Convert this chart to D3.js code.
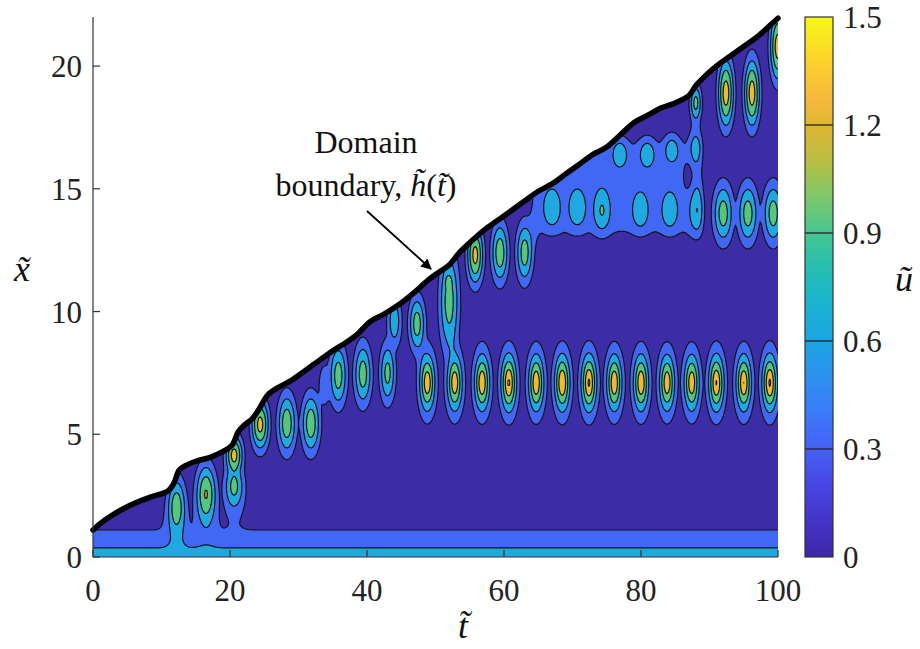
<!DOCTYPE html>
<html><head><meta charset="utf-8">
<script src="https://cdn.jsdelivr.net/npm/d3@7"></script>
<style>body{margin:0;background:#fff} svg{display:block}</style>
</head><body><svg id="c" width="920" height="649"></svg>
<script>
// ---- domain boundary h(t) ----
const boundaryT = [0,1,2.5,5,8,11,11.8,12.6,13.5,15,17,19,20.3,21.2,22,23.3,24.3,25.5,27,29,31,33,35,37,38.5,40.5,42.5,45,47,49,50.5,52,53.5,55,57,59,61,63,65,67,69,71,73,75,77,79,81,83,85,87,88,89,91,93,95,97,99,100];
const boundaryH = [1.1,1.35,1.65,2.05,2.4,2.7,3.0,3.55,3.72,3.9,4.05,4.3,4.55,5.1,5.35,5.65,6.05,6.6,6.9,7.2,7.6,8.0,8.4,8.75,9.05,9.6,9.9,10.35,10.8,11.3,11.6,11.9,12.4,12.8,13.3,13.7,14.1,14.5,14.9,15.2,15.6,16.0,16.4,16.7,17.2,17.7,18.0,18.3,18.5,18.8,19.2,19.5,20.0,20.4,20.8,21.2,21.7,21.95];

// ---- peaks of u(t,x) ----
const blobT  = [12.2,16.5,20.6,20.6, 24.4,28.3,31.8,33.8,35.8,39.4,43.0,44.0,47.3,48.0,52.0,51.9,52.4,
  48.8,52.8,56.8,60.7,64.7,68.5,72.4,76.1,80.0,83.8,87.4,91.0,95.0,98.8,
  55.8,59.4,63.0,
  67.0,70.7,74.3,79.9,84.2,88.2, 92.0,95.6,99.3,
  76.9,80.9,84.5, 88.0,88.0,88.0,
  92.4,96.2,100.0];
const blobX  = [2.1,2.6,4.15,2.9, 5.4,5.45,5.45,7.0,7.4,7.45,7.5,9.6,9.5,8.3,10.4,11.2,8.6,
  7.1,7.1,7.1,7.1,7.1,7.1,7.1,7.1,7.1,7.1,7.1,7.1,7.1,7.1,
  12.3,12.4,12.4,
  14.2,14.2,14.1,14.1,14.1,14.1, 14.0,14.0,14.0,
  16.5,16.5,16.7, 16.8,17.6,18.5,
  18.9,18.9,20.8];
const blobA  = [1.0,1.15,1.3,0.95, 1.3,1.1,1.1,0.45,1.05,1.05,1.0,0.8,1.05,0.4,1.05,1.0,0.45,
  1.45,1.45,1.48,1.55,1.48,1.52,1.55,1.48,1.48,1.45,1.45,1.52,1.5,1.55,
  1.3,1.1,1.05,
  0.48,0.48,0.52,0.46,0.46,0.52, 1.05,1.05,1.05,
  0.46,0.46,0.46, 0.5,0.35,1.0,
  1.35,1.35,1.35];
const blobSt = [1.35,1.5,1.3,1.5, 1.32,1.4,1.4,1.2,1.35,1.35,1.2,1.15,1.25,1.2,1.5,0.6,1.1,
  1.2,1.2,1.2,1.2,1.2,1.2,1.2,1.2,1.2,1.2,1.2,1.2,1.2,1.2,
  1.24,1.3,1.3,
  1.25,1.25,1.2,1.2,1.2,1.1, 1.55,1.55,1.55,
  1.2,1.2,1.2, 1.0,0.95,0.9,
  1.2,1.2,1.2];
const blobSx = [1.2,1.25,0.85,1.0, 1.07,1.27,1.27,1.2,1.35,1.35,1.3,1.2,1.2,1.3,2.2,0.35,1.2,
  1.26,1.26,1.26,1.26,1.26,1.26,1.26,1.26,1.26,1.26,1.26,1.26,1.26,1.26,
  1.25,1.3,1.3,
  0.8,0.8,0.9,0.8,0.8,1.0, 1.3,1.3,1.3,
  0.65,0.65,0.65, 0.8,0.7,0.8,
  1.46,1.46,1.46];
const blobP  = [2,2,2,2, 2,2,2,2,2,2,2,2,2,2,2,2,2,
  1.6,1.6,1.6,1.6,1.6,1.6,1.6,1.6,1.6,1.6,1.6,1.6,1.6,1.6,
  2,2,2, 2,2,2,2,2,2, 2,2,2, 2,2,2, 2,2,2, 2,2,2];
// local dip inside the upper band
const dipT = [86.9], dipX = [15.5], dipA = [-0.25], dipSt = [0.8], dipSx = [0.75];

// near-wall strip and the broad plateau in the upper band
const baseAmp = 0.852, baseDecay = 1.053;
const plateauT = [64.0, 89.0], plateauX = [13.0, 17.0], plateauLevel = 0.42;
const blendQ = 3;

const levels = [0.3, 0.6, 0.9, 1.2, 1.5];
const bandColors = ["#3c2da6", "#4168f4", "#20a9e0", "#55c67f", "#efba2e", "#f9f020"];
const xTicks = [0, 20, 40, 60, 80, 100];
const yTicks = [0, 5, 10, 15, 20];
const cbTicks = [0, 0.3, 0.6, 0.9, 1.2, 1.5];
const parulaStops = [[0,"#3e26a8"],[0.07,"#4434c9"],[0.14,"#4848e6"],[0.2,"#4561f7"],[0.27,"#3a7bf8"],[0.33,"#2d8ff0"],[0.4,"#1ba5e3"],[0.47,"#1ab4d0"],[0.53,"#25bdb5"],[0.6,"#46c690"],[0.67,"#80c868"],[0.73,"#b6bf45"],[0.8,"#e0b530"],[0.85,"#f8b93e"],[0.92,"#fcd22c"],[1,"#f6f818"]];

const svg = d3.select("#c");
const xS = d3.scaleLinear([0, 100], [93, 778]);
const yS = d3.scaleLinear([0, 22], [557, 17]);

// ---- field ----
const sig = z => 1 / (1 + Math.exp(-z));
function field(t, x) {
  t = Math.max(0, Math.min(100, t));
  x = Math.max(0, Math.min(22.5, x));
  let v = baseAmp * Math.exp(-x / baseDecay);
  const w = 0.3;
  v += plateauLevel * sig((t - plateauT[0]) / w) * sig((plateauT[1] - t) / w) * sig((x - plateauX[0]) / w) * sig((plateauX[1] - x) / w);
  for (let k = 0; k < dipT.length; k++) {
    const a = (t - dipT[k]) / dipSt[k], b = (x - dipX[k]) / dipSx[k];
    v += dipA[k] * Math.exp(-(a * a + b * b));
  }
  let s = 0;
  for (let k = 0; k < blobT.length; k++) {
    const a = (t - blobT[k]) / blobSt[k], b = (x - blobX[k]) / blobSx[k];
    const r2 = a * a + b * b;
    if (r2 > 40) continue;
    const u = blobA[k] * Math.exp(-Math.pow(r2, blobP[k] / 2));
    s += Math.pow(u, blendQ);
  }
  return v + Math.pow(s, 1 / blendQ);
}
const t0 = -2, t1 = 102, dt = 0.2, x0 = -1, x1 = 23, dx = 0.05;
const n = Math.round((t1 - t0) / dt) + 1, m = Math.round((x1 - x0) / dx) + 1;
const values = new Float64Array(n * m);
for (let j = 0; j < m; j++) for (let i = 0; i < n; i++) values[i + j * n] = field(t0 + i * dt, x0 + j * dx);
const contours = d3.contours().size([n, m]).thresholds(levels)(values);
const proj = d3.geoTransform({ point(px, py) { this.stream.point(xS(t0 + (px - 0.5) * dt), yS(x0 + (py - 0.5) * dx)); } });
const gp = d3.geoPath(proj);

// clip to domain
const hPts = boundaryT.map((t, i) => [t, boundaryH[i]]);
const curve = d3.curveCatmullRom.alpha(0.5);
const area = d3.area().x(d => xS(d[0])).y0(yS(0)).y1(d => yS(d[1])).curve(curve);
const defs = svg.append("defs");
defs.append("clipPath").attr("id", "dom").append("path").attr("d", area(hPts));

const g = svg.append("g").attr("clip-path", "url(#dom)");
g.append("rect").attr("x", xS(0)).attr("y", yS(22)).attr("width", xS(100) - xS(0)).attr("height", yS(0) - yS(22)).attr("fill", bandColors[0]);
contours.forEach((c, k) => {
  g.append("path").attr("d", gp(c)).attr("fill", bandColors[k + 1]).attr("stroke", "#141414").attr("stroke-width", 1.2).attr("stroke-linejoin", "round");
});

// boundary line
svg.append("path").attr("d", d3.line().x(d => xS(d[0])).y(d => yS(d[1])).curve(curve)(hPts))
  .attr("fill", "none").attr("stroke", "#000").attr("stroke-width", 5.5).attr("stroke-linecap", "round").attr("stroke-linejoin", "round");

// axes
const ax = svg.append("g").attr("stroke", "#333").attr("stroke-width", 1.2);
ax.append("line").attr("x1", xS(0)).attr("x2", xS(0)).attr("y1", yS(22)).attr("y2", yS(0));
ax.append("line").attr("x1", xS(0)).attr("x2", xS(100)).attr("y1", yS(0)).attr("y2", yS(0));
yTicks.forEach(v => ax.append("line").attr("x1", xS(0)).attr("x2", xS(0) + 7).attr("y1", yS(v)).attr("y2", yS(v)));
xTicks.forEach(v => ax.append("line").attr("x1", xS(v)).attr("x2", xS(v)).attr("y1", yS(0)).attr("y2", yS(0) - 7));

const font = "'Liberation Serif', 'Times New Roman', serif";
const tx = svg.append("g").attr("font-family", font).attr("font-size", 31).attr("fill", "#222");
yTicks.forEach(v => tx.append("text").attr("x", 82).attr("y", yS(v) + 11).attr("text-anchor", "end").text(v));
xTicks.forEach(v => tx.append("text").attr("x", xS(v)).attr("y", 601).attr("text-anchor", "middle").text(v));

// colorbar
const cb = { x: 805, w: 28 };
const cbS = d3.scaleLinear([0, 1.5], [557, 17]);
const grad = defs.append("linearGradient").attr("id", "par").attr("x1", 0).attr("x2", 0).attr("y1", 1).attr("y2", 0);
parulaStops.forEach(s => grad.append("stop").attr("offset", s[0]).attr("stop-color", s[1]));
svg.append("rect").attr("x", cb.x).attr("y", cbS(1.5)).attr("width", cb.w).attr("height", cbS(0) - cbS(1.5)).attr("fill", "url(#par)");
levels.slice(0, 4).forEach(l => svg.append("line").attr("x1", cb.x).attr("x2", cb.x + cb.w).attr("y1", cbS(l)).attr("y2", cbS(l)).attr("stroke", "#222").attr("stroke-width", 1.3));
svg.append("rect").attr("x", cb.x).attr("y", cbS(1.5)).attr("width", cb.w).attr("height", cbS(0) - cbS(1.5)).attr("fill", "none").attr("stroke", "#333").attr("stroke-width", 1.2);
cbTicks.forEach(v => tx.append("text").attr("x", 843).attr("y", cbS(v) + 11).text(v === 0 ? "0" : v.toFixed(1)));

// axis titles
const it = svg.append("g").attr("font-family", font).attr("font-style", "italic").attr("font-size", 36).attr("fill", "#111");
it.append("text").attr("x", 22).attr("y", 281).attr("text-anchor", "middle").text("x\u0303");
it.append("text").attr("x", 463).attr("y", 638).attr("text-anchor", "middle").text("t\u0303");
it.append("text").attr("x", 904).attr("y", 291).attr("text-anchor", "middle").text("u\u0303");

// annotation
const an = svg.append("g").attr("font-family", font).attr("font-size", 32).attr("fill", "#111");
an.append("text").attr("x", 366).attr("y", 153).attr("text-anchor", "middle").text("Domain");
const l2 = an.append("text").attr("x", 366).attr("y", 196).attr("text-anchor", "middle");
l2.append("tspan").text("boundary, ");
l2.append("tspan").attr("font-style", "italic").text("h\u0303");
l2.append("tspan").text("(");
l2.append("tspan").attr("font-style", "italic").text("t\u0303");
l2.append("tspan").text(")");
defs.append("marker").attr("id", "ah").attr("viewBox", "0 0 10 10").attr("refX", 9).attr("refY", 5)
  .attr("markerWidth", 6).attr("markerHeight", 6).attr("orient", "auto-start-reverse")
  .append("path").attr("d", "M0,0 L10,5 L0,10 z").attr("fill", "#000");
svg.append("line").attr("x1", 367).attr("y1", 211).attr("x2", 431).attr("y2", 269)
  .attr("stroke", "#000").attr("stroke-width", 1.8).attr("marker-end", "url(#ah)");
</script></body></html>
